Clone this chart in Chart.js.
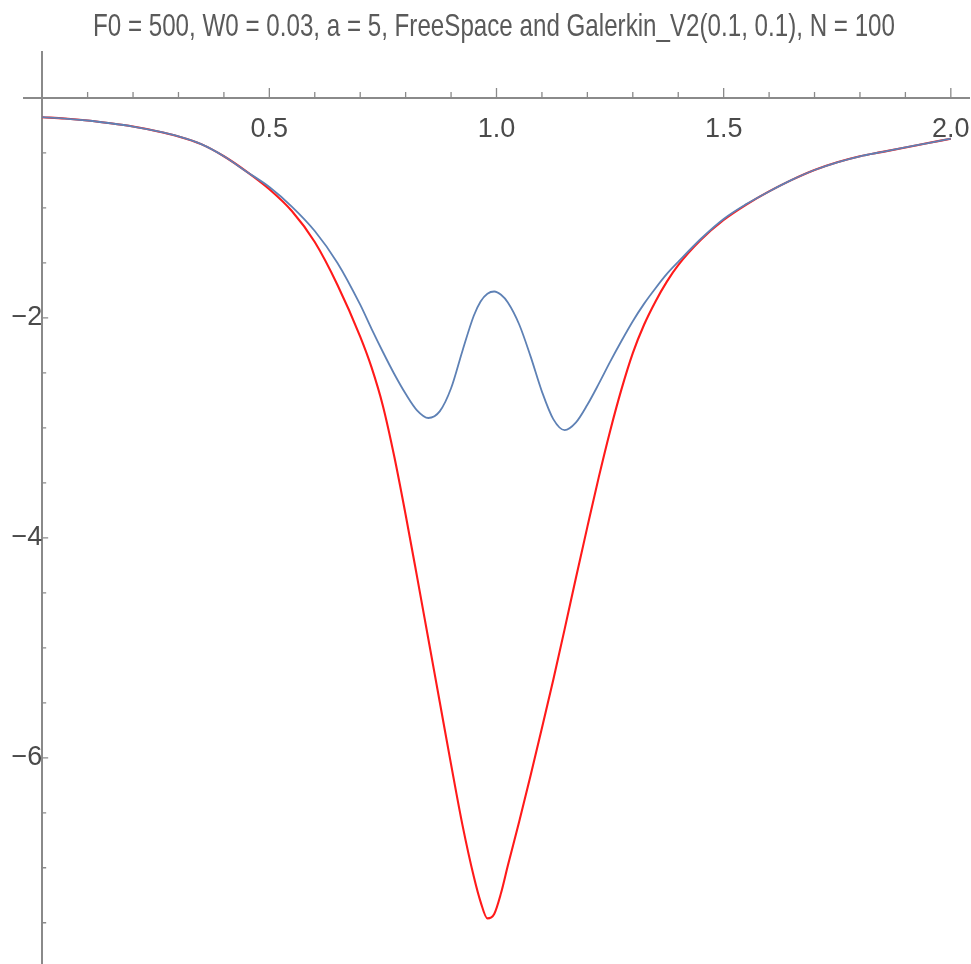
<!DOCTYPE html>
<html>
<head>
<meta charset="utf-8">
<script src="https://cdn.jsdelivr.net/npm/chart.js@4.4.1/dist/chart.umd.min.js"></script>
<style>
html, body { margin: 0; padding: 0; background: #ffffff; }
#c { display: block; }
</style>
</head>
<body>
<canvas id="c" width="971" height="964"></canvas>
<script>
// ---------------- data ----------------
const titleText = "F0 = 500, W0 = 0.03, a = 5, FreeSpace and Galerkin_V2(0.1, 0.1), N = 100";

const xValues = [0, 0.05, 0.1, 0.15, 0.2, 0.25, 0.3, 0.35, 0.4, 0.45, 0.5, 0.55, 0.6, 0.65, 0.7,
  0.725, 0.75, 0.775, 0.8, 0.825, 0.85, 0.875, 0.9, 0.925, 0.95, 0.965, 0.98, 0.995, 1.01, 1.025,
  1.05, 1.075, 1.1, 1.125, 1.15, 1.175, 1.2, 1.225, 1.25, 1.275, 1.3, 1.325, 1.35, 1.375, 1.4,
  1.45, 1.5, 1.55, 1.6, 1.65, 1.7, 1.75, 1.8, 1.85, 1.9, 1.95, 2.0];

const freeSpace = [-0.175, -0.187, -0.205, -0.23, -0.26, -0.30, -0.35, -0.42, -0.53, -0.67, -0.83, -1.03, -1.31, -1.70, -2.17,
  -2.45, -2.80, -3.26, -3.79, -4.35, -4.92, -5.49, -6.06, -6.61, -7.08, -7.31, -7.46, -7.42, -7.23, -6.98,
  -6.58, -6.16, -5.73, -5.29, -4.83, -4.36, -3.90, -3.45, -3.03, -2.65, -2.32, -2.06, -1.85, -1.67, -1.52,
  -1.29, -1.11, -0.97, -0.85, -0.745, -0.655, -0.585, -0.53, -0.49, -0.45, -0.41, -0.37];

const galerkin = [-0.175, -0.187, -0.205, -0.23, -0.26, -0.30, -0.35, -0.42, -0.53, -0.67, -0.81, -0.99, -1.21, -1.50, -1.88,
  -2.10, -2.31, -2.51, -2.69, -2.84, -2.91, -2.85, -2.64, -2.30, -1.98, -1.85, -1.78, -1.76, -1.79, -1.86,
  -2.06, -2.35, -2.67, -2.92, -3.02, -2.95, -2.79, -2.60, -2.40, -2.21, -2.03, -1.87, -1.73, -1.60, -1.49,
  -1.28, -1.10, -0.965, -0.85, -0.745, -0.655, -0.585, -0.53, -0.49, -0.45, -0.41, -0.37];

const xTickLabels = [0.5, 1.0, 1.5, 2.0];
const yTickLabels = [-2, -4, -6];
const xMinorTicks = [0.1, 0.2, 0.3, 0.4, 0.6, 0.7, 0.8, 0.9, 1.1, 1.2, 1.3, 1.4, 1.6, 1.7, 1.8, 1.9];
const yMinorTicks = [-0.5, -1, -1.5, -2.5, -3, -3.5, -4.5, -5, -5.5, -6.5, -7, -7.5];

// ---------------- chart ----------------
const FONT = '"Liberation Sans Narrow", "Arial Narrow", "Liberation Sans", Arial, sans-serif';
const AXIS_COLOR = '#8a8a8a';

const toPoints = (ys) => xValues.map((x, i) => ({ x: x, y: ys[i] }));

const mmaTicks = {
  id: 'mmaTicks',
  afterLayout(chart) {
    const t = chart.titleBlock;
    if (t) {
      const c = 494, half = 401;
      t.left = c - half; t.right = c + half;
    }
  },
  beforeDatasetsDraw(chart) {
    const { ctx, scales: { x, y } } = chart;
    const y0 = y.getPixelForValue(0);
    const x0 = x.getPixelForValue(0);
    ctx.save();
    ctx.strokeStyle = AXIS_COLOR;
    ctx.lineWidth = 1.3;
    ctx.beginPath();
    xMinorTicks.forEach(v => { const p = x.getPixelForValue(v); ctx.moveTo(p, y0); ctx.lineTo(p, y0 - 6); });
    xTickLabels.forEach(v => { const p = x.getPixelForValue(v); ctx.moveTo(p, y0); ctx.lineTo(p, y0 - 10); });
    yMinorTicks.forEach(v => { const p = y.getPixelForValue(v); ctx.moveTo(x0, p); ctx.lineTo(x0 + 4, p); });
    yTickLabels.forEach(v => { const p = y.getPixelForValue(v); ctx.moveTo(x0, p); ctx.lineTo(x0 + 6, p); });
    ctx.stroke();
    ctx.restore();
  }
};

new Chart(document.getElementById('c'), {
  type: 'scatter',
  data: {
    datasets: [
      {
        label: 'Galerkin_V2(0.1, 0.1)',
        data: toPoints(galerkin),
        showLine: true,
        borderColor: '#5E81B5',
        borderWidth: 1.8,
        pointRadius: 0,
        cubicInterpolationMode: 'monotone',
        order: 0
      },
      {
        label: 'FreeSpace',
        data: toPoints(freeSpace),
        showLine: true,
        borderColor: '#FF1A1A',
        borderWidth: 2.1,
        pointRadius: 0,
        cubicInterpolationMode: 'monotone',
        order: 1
      }
    ]
  },
  options: {
    responsive: false,
    devicePixelRatio: 1,
    animation: false,
    layout: { padding: { left: 24, right: 2, top: 0, bottom: 0 } },
    plugins: {
      legend: { display: false },
      tooltip: { enabled: false },
      title: {
        display: true,
        text: titleText,
        color: '#5a5a5a',
        font: { family: FONT, size: 32, weight: 'normal', lineHeight: 1.2 },
        padding: { top: 8, bottom: 5.6 }
      }
    },
    scales: {
      x: {
        type: 'linear',
        min: -0.04,
        max: 2.04,
        position: { y: 0 },
        grid: { display: false, drawTicks: false },
        border: { display: true, color: AXIS_COLOR, width: 2 },
        afterBuildTicks: (s) => { s.ticks = xTickLabels.map(v => ({ value: v })); },
        afterFit: (s) => { s.height = 0; s.paddingLeft = 0; s.paddingRight = 0; s.paddingTop = 0; s.paddingBottom = 0; },
        ticks: {
          autoSkip: false,
          maxRotation: 0,
          padding: 15,
          color: '#4a4a4a',
          font: { family: FONT, size: 27 },
          callback: (v) => Number(v).toFixed(1)
        }
      },
      y: {
        type: 'linear',
        min: -7.875,
        max: 0.418,
        position: { x: 0 },
        grid: { display: false, drawTicks: false },
        border: { display: true, color: AXIS_COLOR, width: 2 },
        afterBuildTicks: (s) => { s.ticks = yTickLabels.map(v => ({ value: v })); },
        afterFit: (s) => { s.width = 0; s.paddingLeft = 0; s.paddingRight = 0; s.paddingTop = 0; s.paddingBottom = 0; },
        ticks: {
          autoSkip: false,
          padding: 8,
          color: '#4a4a4a',
          font: { family: FONT, size: 27 },
          callback: (v) => String(v).replace('-', '\u2212')
        }
      }
    }
  },
  plugins: [mmaTicks]
});
</script>
</body>
</html>
